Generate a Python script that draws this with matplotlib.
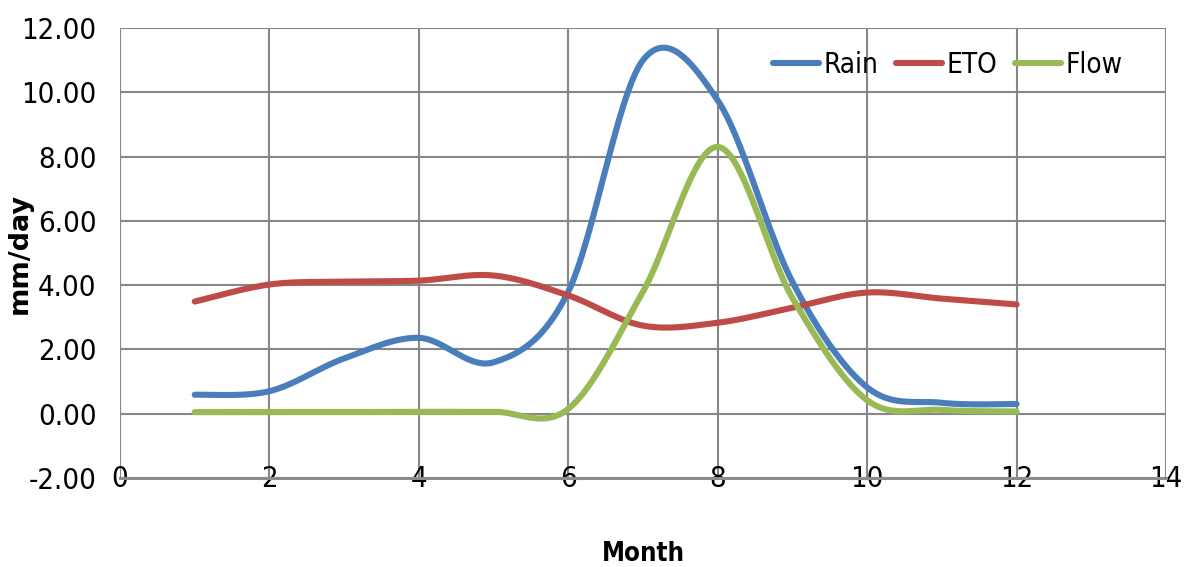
import numpy as np
import matplotlib
matplotlib.use("Agg")
import matplotlib.pyplot as plt
from matplotlib.ticker import FormatStrFormatter, MultipleLocator

# Monthly averages, mm/day
months = [1, 2, 3, 4, 5, 6, 7, 8, 9, 10, 11, 12]
rain = [0.59, 0.70, 1.72, 2.36, 1.60, 3.80, 11.00, 9.75, 4.10, 0.82, 0.34, 0.30]
eto = [3.49, 4.02, 4.11, 4.14, 4.30, 3.68, 2.74, 2.83, 3.30, 3.77, 3.58, 3.40]
flow = [0.05, 0.05, 0.05, 0.06, 0.06, 0.15, 3.80, 8.30, 3.60, 0.42, 0.12, 0.07]

series = [("Rain", rain, "#4a7ebb"),
          ("ETO", eto, "#be4b48"),
          ("Flow", flow, "#98b954")]


def smooth_line(x, y, n=40):
    # Bezier curve through the points, spreadsheet style "smoothed line"
    pts = np.column_stack([x, y]).astype(float)
    ext = np.vstack([pts[0], pts, pts[-1]])
    t = np.linspace(0, 1, n)[:, None]
    out = []
    for i in range(len(pts) - 1):
        p0, p1, p2, p3 = ext[i], ext[i + 1], ext[i + 2], ext[i + 3]
        c1 = p1 + (p2 - p0) / 6
        c2 = p2 - (p3 - p1) / 6
        seg = ((1 - t) ** 3 * p1 + 3 * (1 - t) ** 2 * t * c1
               + 3 * (1 - t) * t ** 2 * c2 + t ** 3 * p2)
        out.append(seg if i == 0 else seg[1:])
    out = np.vstack(out)
    return out[:, 0], out[:, 1]


def main():
    plt.rcParams['font.family'] = ['DejaVu Sans']
    plt.rcParams['font.stretch'] = 'condensed'

    fig = plt.figure(figsize=(11.87, 5.67), dpi=100)
    ax = fig.add_axes([120 / 1187, 89 / 567, 1046 / 1187, 450 / 567])

    for name, vals, col in series:
        sx, sy = smooth_line(months, vals)
        ax.plot(sx, sy, color=col, lw=4.4, solid_capstyle='round',
                label=name, zorder=3)

    ax.set_xlim(0, 14)
    ax.set_ylim(-2, 12)
    ax.xaxis.set_major_locator(MultipleLocator(2))
    ax.yaxis.set_major_locator(MultipleLocator(2))
    ax.yaxis.set_major_formatter(FormatStrFormatter('%.2f'))

    ax.grid(True, color='#878787', lw=1.5, zorder=1)
    ax.set_axisbelow(True)
    for s in ['top', 'right', 'left']:
        ax.spines[s].set_visible(False)
    ax.spines['bottom'].set_color('#8c8c8c')
    ax.spines['bottom'].set_linewidth(2.2)

    ax.tick_params(axis='both', length=0, labelsize=21)
    ax.tick_params(axis='y', pad=17)
    ax.tick_params(axis='x', pad=-9.5)

    ax.set_ylabel("mm/day", fontweight='bold', fontsize=19.5,
                  fontstretch='normal')
    ax.yaxis.set_label_coords(-0.083, 0.5)
    ax.set_xlabel("Month", fontweight='bold', fontsize=18.5)
    ax.xaxis.set_label_coords(0.5, -0.14)

    ax.legend(loc='center right', bbox_to_anchor=(0.958, 0.918), ncol=3,
              frameon=False, fontsize=20, handlelength=1.65,
              handletextpad=0.15, columnspacing=0.65, borderpad=0,
              borderaxespad=0)

    fig.savefig("out.png", dpi=100)


if __name__ == '__main__':
    main()
